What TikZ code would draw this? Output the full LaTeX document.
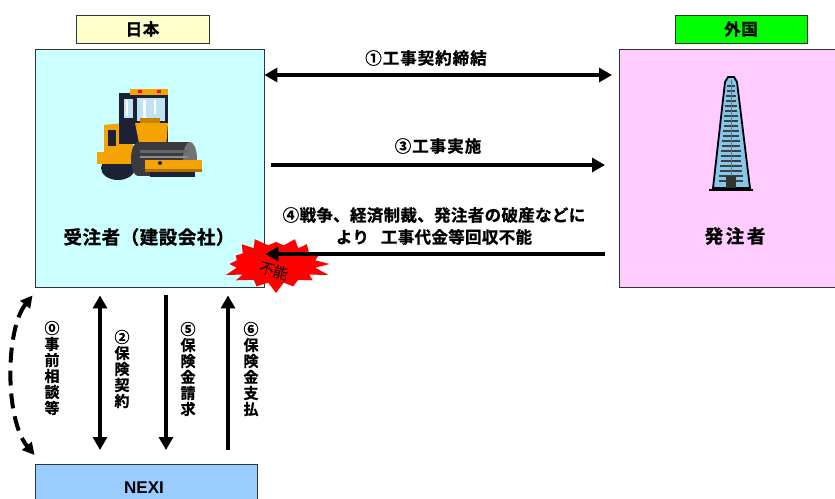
\documentclass[tikz,border=0pt]{standalone}
\usepackage{fontspec}
\setmainfont{Liberation Sans}
\newfontfamily\jp{Noto Sans CJK JP}[BoldFont={Noto Sans CJK JP Bold}]
\usetikzlibrary{arrows.meta}

\definecolor{clientfill}{HTML}{CCFFFF}
\definecolor{ownerfill}{HTML}{FFCCFF}
\definecolor{nexifill}{HTML}{99CCFF}
\definecolor{homefill}{HTML}{FFFFCC}
\definecolor{abroadfill}{HTML}{00FF00}
\definecolor{rollerorange}{HTML}{F5A300}
\definecolor{rollerdark}{HTML}{1C2233}
\definecolor{drumgrey}{HTML}{3A3A40}
\definecolor{glass}{HTML}{BFE3F2}
\definecolor{towerblue}{HTML}{86C6E8}

% heavy gothic at a given size, slightly tracked
\newcommand{\jpb}[2][6]{\jp\bfseries\fontsize{#2}{#2}\selectfont\addfontfeature{LetterSpace=#1,FakeBold=1}}

\begin{document}
\begin{tikzpicture}[x=1pt,y=-1pt,
    box/.style={draw=black!80, line width=0.8pt, inner sep=0pt},
    tag/.style={box, minimum height=28pt, font={\jpb[4]{16.5}}},
    lbl/.style={inner sep=0pt, align=center, font={\jpb{16.5}}},
    vlbl/.style={inner sep=0pt, align=center, font={\jpb[0]{15}\baselineskip=16pt}},
    flow/.style={line width=4.5pt, -{Triangle[length=13pt,width=14pt]}},
    twoway/.style={line width=4.5pt, {Triangle[length=13pt,width=14pt]}-{Triangle[length=13pt,width=14pt]}}]
\useasboundingbox (0,0) rectangle (835,498);

% the two parties and NEXI
\node[box, fill=clientfill, minimum width=229pt, minimum height=238pt] (client) at (149.5,168) {};
\node[box, fill=ownerfill, minimum width=230pt, minimum height=238pt, anchor=west] (owner) at (619,168) {};
\node[box, fill=nexifill, minimum width=222pt, minimum height=50pt, anchor=north] (nexi) at (146,464) {};
\node[font=\bfseries\fontsize{17}{17}\selectfont] (nexitext) at (144,488) {NEXI};

\node[tag, fill=homefill, minimum width=133pt] (home) at (142.5,29) {日本};
\node[tag, fill=abroadfill, minimum width=132pt] (abroad) at (741,29) {外国};

\node[lbl, font={\jpb[3]{18.5}}] (clientname) at (149,237) {受注者（建設会社）};
\node[lbl, font={\jpb[14]{18.5}}] (ownername) at (735,236) {発注者};

% road roller
\begin{scope}
  \fill[rollerdark] (118,168) ellipse (17pt and 12pt);
  \fill[rollerorange] (97,152) rectangle (147,164);
  \fill[rollerorange] (104,125) -- (133,122) -- (133,154) -- (104,154) -- cycle;
  \fill[rollerdark] (108,130) rectangle (116,146);
  \fill[rollerdark] (119,93) rectangle (168,144);
  \fill[glass] (124,99) rectangle (133,118);
  \fill[white] (126,100) rectangle (128,116);
  \fill[glass] (137,98) rectangle (165,121);
  \fill[white] (143,100) rectangle (146,118);
  \fill[white] (154,100) rectangle (156,114);
  \fill[rollerorange!80!black] (140,118) rectangle (160,127);
  \fill[rollerorange] (135,123) -- (168,123) -- (166,148) -- (140,148) -- cycle;
  \fill[rollerorange] (130,89) rectangle (168,95);
  \fill[red] (138,90) rectangle (142,93);
  \fill[red] (157,90) rectangle (161,93);
  \fill[drumgrey] (138,142) rectangle (190,176);
  \fill[drumgrey] (138,159) ellipse (7pt and 17pt);
  \fill[black!55] (190,159) ellipse (7pt and 17pt);
  \fill[black!60] (140,150) rectangle (188,153);
  \fill[black!45] (140,156) rectangle (188,158);
  \fill[rollerorange] (145,160) rectangle (202,172);
  \fill[rollerorange!70!black] (145,169) rectangle (202,172);
  \fill[rollerdark] (160,163) circle (2pt);
  \fill[rollerdark] (150,172) rectangle (195,177);
\end{scope}

% tower
\begin{scope}
  \fill[towerblue, draw=black, line width=1.8pt] (725,82) -- (728,77) -- (734,77) -- (737,82) -- (750,188) -- (713,188) -- cycle;
  \foreach \r in {86,91,...,181}
    \draw[black!75, line width=1.4pt] ({731-0.5*(7+(\r-80)*0.17)},\r) -- ({731+0.5*(7+(\r-80)*0.17)},\r);
  \draw[towerblue!60!black, line width=1pt] (731,80) -- (731,184);
  \fill[black!80] (726,176) rectangle (736,188);
  \draw[black, line width=2pt] (709,190) -- (753,190);
\end{scope}

% contract flows
\draw[twoway, shorten >=7pt] (client.east |- 0,75) -- (owner.west |- 0,75);
\node[lbl] (step1) at (426,58) {①工事契約締結};
\draw[flow, shorten <=7pt, shorten >=14pt] (client.east |- 0,165) -- (owner.west |- 0,165);
\node[lbl] (step3) at (438,146) {③工事実施};
\node[lbl, font={\jpb[2]{16.5}\baselineskip=22pt}] (step4) at (434,226) {④戦争、経済制裁、発注者の破産などに\\より\hspace{12pt}工事代金等回収不能};

% default mark: jagged red burst
\fill[red] plot[samples=33, domain=0:360, variable=\t]
  ({276+(mod(round(\t/11.25),2)==0 ? 57*(0.88+0.12*sin(3*\t+30)) : 40)*cos(\t)},
   {264+(mod(round(\t/11.25),2)==0 ? 29*(0.88+0.12*sin(5*\t)) : 19)*sin(\t)}) -- cycle;
\node[rotate=-15, inner sep=0pt, font={\jp\fontsize{15}{15}\selectfont}] (bursttext) at (274,271) {不能};
\draw[flow, shorten >=1pt, shorten <=14pt] (owner.west |- 0,254) -- (client.east |- 0,254);

% insurance flows with NEXI
\draw[line width=4pt, dash pattern=on 15pt off 8pt, {Triangle[length=12pt,width=12pt]}-{Triangle[length=12pt,width=12pt]}]
  (client.south west) ++(-2,8) .. controls (5,330) and (5,420) .. ([yshift=9pt]nexi.north west);
\node[vlbl] (step0) at (52,368) {⓪\\事\\前\\相\\談\\等};
\draw[twoway, shorten <=8pt, shorten >=14pt] (client.south -| 100,0) -- (nexi.north -| 100,0);
\node[vlbl] (step2) at (122,369) {②\\保\\険\\契\\約};
\draw[flow, shorten <=8pt, shorten >=14pt] (client.south -| 166,0) -- (nexi.north -| 166,0);
\node[vlbl] (step5) at (188,369) {⑤\\保\\険\\金\\請\\求};
\draw[flow, shorten <=14pt, shorten >=8pt] (nexi.north -| 228,0) -- (client.south -| 228,0);
\node[vlbl] (step6) at (251,369) {⑥\\保\\険\\金\\支\\払};
\end{tikzpicture}
\end{document}
